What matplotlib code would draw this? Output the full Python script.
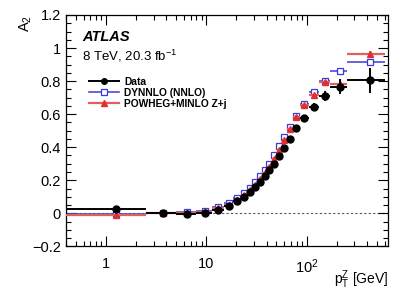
import numpy as np
import matplotlib
matplotlib.use("Agg")
import matplotlib.pyplot as plt
from matplotlib.lines import Line2D
from matplotlib.ticker import MultipleLocator, LogLocator, FixedLocator

plt.rcParams['font.family'] = ['Liberation Sans', 'DejaVu Sans']
plt.rcParams['mathtext.default'] = 'regular'

# pT(Z) bin edges [GeV]
bin_edges = [0, 2.5, 5.0, 8.0, 11.4, 14.9, 18.5, 22.0, 25.5, 29.0, 32.6, 36.4,
             40.4, 44.9, 50.2, 56.4, 63.9, 73.4, 85.4, 105.0, 132.0, 173.0, 253.0, 600.0]

a2_data = [0.024, 0.0, -0.006, 0.004, 0.022, 0.045, 0.072, 0.10, 0.13, 0.16, 0.19, 0.225,
           0.26, 0.30, 0.345, 0.393, 0.448, 0.514, 0.578, 0.645, 0.708, 0.766, 0.805]
a2_data_err = [0.010, 0.008, 0.008, 0.008, 0.008, 0.008, 0.008, 0.008, 0.008, 0.008, 0.009, 0.009,
               0.010, 0.010, 0.010, 0.011, 0.012, 0.013, 0.015, 0.020, 0.030, 0.045, 0.075]
a2_dynnlo = [-0.004, 0.002, 0.006, 0.014, 0.038, 0.062, 0.09, 0.122, 0.155, 0.19, 0.225, 0.262,
             0.30, 0.35, 0.405, 0.463, 0.524, 0.589, 0.659, 0.736, 0.802, 0.863, 0.913]
a2_dynnlo_err = [0.003] * 20 + [0.005, 0.005, 0.006]
a2_powheg = [-0.012, 0.0, 0.0, 0.008, 0.03, 0.05, 0.078, 0.108, 0.14, 0.172, 0.205, 0.242,
             0.28, 0.33, 0.385, 0.445, 0.508, 0.585, 0.653, 0.716, 0.794, 0.78, 0.962]
a2_powheg_err = [0.006] * 20 + [0.008, 0.004, 0.022]

labels = ['Data', 'DYNNLO (NNLO)', 'POWHEG+MINLO Z+j']

blue = '#3a3ae0'
red = '#e03030'

edges = np.array(bin_edges)
lo, hi = edges[:-1], edges[1:]
centers = (lo + hi) / 2
lo_plot = np.where(lo <= 0, 0.01, lo)   # first bin starts at 0, off the log axis
xerr = [centers - lo_plot, hi - centers]

fig = plt.figure(figsize=(4.09, 2.94), dpi=100)
ax = fig.add_axes([0.161, 0.162, 0.788, 0.787])

ax.axhline(0, color='#555555', lw=0.8, ls=(0, (2, 2)), zorder=1)

ax.errorbar(centers, a2_dynnlo, xerr=xerr, yerr=a2_dynnlo_err, fmt='s', ms=5,
            mfc='white', mec=blue, ecolor='#4a4ae0', elinewidth=1.2,
            mew=0.9, capsize=0, zorder=2)
ax.errorbar(centers, a2_powheg, xerr=xerr, yerr=a2_powheg_err, fmt='^', ms=4.5,
            color=red, ecolor='#e06060', elinewidth=1.6, capsize=0, zorder=3)
ax.errorbar(centers, a2_data, xerr=xerr, yerr=a2_data_err, fmt='o', ms=5,
            color='black', elinewidth=1.4, capsize=0, zorder=4)

ax.set_xscale('log')
ax.set_xlim(0.4, 650)
ax.set_ylim(-0.2, 1.2)

ax.yaxis.set_minor_locator(MultipleLocator(0.05))
ax.set_yticks([-0.2, 0, 0.2, 0.4, 0.6, 0.8, 1.0, 1.2])
ax.set_yticklabels(['\u22120.2', '0', '0.2', '0.4', '0.6', '0.8', '1', '1.2'])
ax.xaxis.set_major_locator(FixedLocator([1, 10, 100]))
ax.set_xticklabels(['1', '10', '10$^2$'])
ax.xaxis.set_minor_locator(LogLocator(base=10, subs=np.arange(2, 10)))

ax.tick_params(which='both', direction='in', top=True, right=True, labelsize=10.5, width=0.8)
ax.tick_params(which='major', length=7)
ax.tick_params(which='minor', length=3.5)
ax.tick_params(axis='x', which='major', pad=8)
for s in ax.spines.values():
    s.set_linewidth(0.9)

fig.text(0.062, 0.949, 'A$_2$', rotation=90, fontsize=10.5, ha='center', va='top')
fig.text(0.949, 0.035, 'p$_{T}^{Z}$ [GeV]', fontsize=10, ha='right', va='baseline')

ax.text(0.05, 0.905, 'ATLAS', transform=ax.transAxes, fontsize=10.5,
        fontweight='bold', fontstyle='italic', va='center')
ax.text(0.05, 0.825, '8 TeV, 20.3 fb$^{-1}$', transform=ax.transAxes, fontsize=9.5, va='center')

handles = [
    Line2D([], [], color='black', marker='o', ms=4, lw=1.4),
    Line2D([], [], color='#4a4ae0', marker='s', ms=4.5, mfc='white', mec=blue, mew=0.9, lw=1.2),
    Line2D([], [], color='#e06060', marker='^', ms=4, mfc=red, mec=red, lw=1.6),
]
leg = ax.legend(handles, labels, loc='upper left', bbox_to_anchor=(0.06, 0.75), frameon=False,
                prop={'size': 7.4, 'weight': 'bold'}, handlelength=2.9,
                handletextpad=0.5, labelspacing=0.08, borderaxespad=0)

fig.savefig('out.png', dpi=100)
